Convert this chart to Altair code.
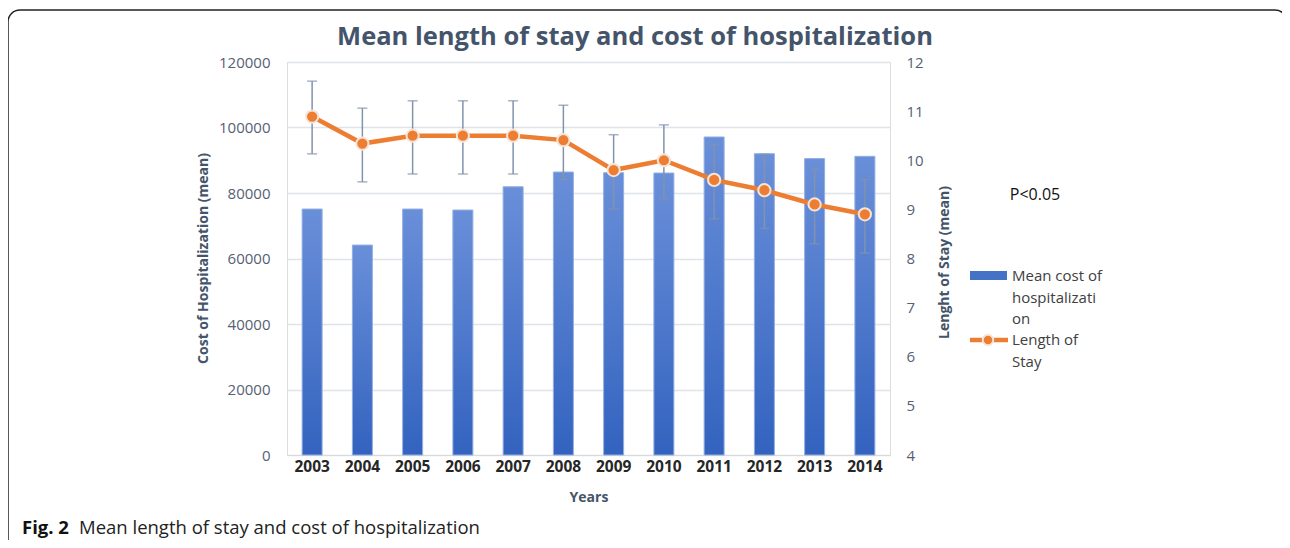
import altair as alt
import pandas as pd

years = ["2003", "2004", "2005", "2006", "2007", "2008", "2009", "2010", "2011", "2012", "2013", "2014"]
cost = [75100, 64100, 75100, 74800, 81900, 86400, 86200, 86100, 97100, 92000, 90500, 91200]
los = [10.89, 10.34, 10.50, 10.50, 10.50, 10.41, 9.80, 10.00, 9.60, 9.39, 9.10, 8.90]
los_low = [10.13, 9.56, 9.72, 9.72, 9.72, 9.61, 9.01, 9.22, 8.81, 8.61, 8.30, 8.11]
los_high = [11.61, 11.06, 11.21, 11.21, 11.21, 11.12, 10.52, 10.72, 10.32, 10.12, 9.82, 9.61]
cost_ticks = [0, 20000, 40000, 60000, 80000, 100000, 120000]
los_ticks = [4, 5, 6, 7, 8, 9, 10, 11, 12]

df = pd.DataFrame({"year": years, "cost": cost, "los": los, "low": los_low, "high": los_high})

FONT = "Open Sans"
SLATE = "#44546a"
LABEL = "#566074"
W, H = 603, 393

x_enc = alt.X(
    "year:O", sort=years,
    scale=alt.Scale(paddingInner=0.6, paddingOuter=0.3),
    axis=alt.Axis(title="Years", labelAngle=0, labelFont=FONT, labelFontSize=15.5,
                  labelFontWeight="bold", labelColor="#262626", labelPadding=4,
                  ticks=False, domain=True, domainColor="#d9d9d9", grid=False,
                  titleFont=FONT, titleFontSize=14, titleFontWeight="bold",
                  titleColor=SLATE, titleBaseline="middle", titleY=42),
)

base = alt.Chart(df)

bar_grad = alt.Gradient(
    gradient="linear",
    stops=[alt.GradientStop(color="#6a8fd9", offset=0),
           alt.GradientStop(color="#3363bf", offset=1)],
    x1=0, x2=0, y1=0, y2=1,
)

bars = base.mark_bar(size=20, color=bar_grad, stroke="#93aee3", strokeWidth=1).encode(
    x=x_enc,
    y=alt.Y("cost:Q", scale=alt.Scale(domain=[0, 120000], nice=False),
            axis=alt.Axis(values=cost_ticks, format="d", title="Cost of Hospitalization (mean)",
                          labelFont=FONT, labelFontSize=15, labelColor=LABEL, labelPadding=17,
                          ticks=False, domain=False, grid=True, gridColor="#dfe3ea", gridWidth=1.5,
                          titleFont=FONT, titleFontSize=14, titleFontWeight="bold", titleColor=SLATE,
                          titleAngle=270, titleBaseline="middle", titleX=-84, titleY=196)),
)

r_scale = alt.Scale(domain=[4, 12], nice=False)
r_axis = alt.Axis(orient="right", values=los_ticks, format="d", title="Lenght of Stay (mean)",
                  labelFont=FONT, labelFontSize=15, labelColor=LABEL, labelPadding=16,
                  ticks=False, domain=False, grid=False,
                  titleFont=FONT, titleFontSize=14, titleFontWeight="bold", titleColor=SLATE,
                  titleAngle=270, titleBaseline="middle", titleX=54, titleY=200)

ERR = "#8193ad"
rules = base.mark_rule(color=ERR, strokeWidth=1.5).encode(
    x=x_enc, y=alt.Y("low:Q", scale=r_scale, axis=r_axis), y2="high:Q")
tick_lo = base.mark_tick(color=ERR, thickness=1.5, size=10).encode(
    x=x_enc, y=alt.Y("low:Q", scale=r_scale, axis=r_axis))
tick_hi = base.mark_tick(color=ERR, thickness=1.5, size=10).encode(
    x=x_enc, y=alt.Y("high:Q", scale=r_scale, axis=r_axis))
line = base.mark_line(color="#ed7d31", strokeWidth=4.5).encode(
    x=x_enc, y=alt.Y("los:Q", scale=r_scale, axis=r_axis))
pts = base.mark_point(filled=True, fill="#ed7d31", stroke="#f5e4d8", strokeWidth=2,
                      size=150, opacity=1).encode(
    x=x_enc, y=alt.Y("los:Q", scale=r_scale, axis=r_axis))

right = alt.layer(rules, tick_lo, tick_hi, line, pts)

main = alt.layer(bars, right).resolve_scale(y="independent")

# annotations (page -> plot coords: subtract (287, 62))
ann = alt.Chart(pd.DataFrame({"a": [0]}))

frame = ann.mark_rect(fill=None, stroke="#222222", strokeWidth=1.5, cornerRadius=12).encode(
    x=alt.value(-279), x2=alt.value(1000), y=alt.value(-52), y2=alt.value(490))

title = ann.mark_text(font=FONT, fontSize=25.5, fontWeight="bold", color=SLATE,
                      align="center", baseline="middle").encode(
    x=alt.value(348), y=alt.value(-25), text=alt.value("Mean length of stay and cost of hospitalization"))

pval = ann.mark_text(font=FONT, fontSize=16, color="#111111", align="center", baseline="middle").encode(
    x=alt.value(748), y=alt.value(133), text=alt.value("P<0.05"))

leg_rect = ann.mark_rect(color="#4472c4").encode(
    x=alt.value(683), x2=alt.value(720), y=alt.value(209), y2=alt.value(218))
leg_line = ann.mark_rule(color="#ed7d31", strokeWidth=4.5).encode(
    x=alt.value(683), x2=alt.value(721), y=alt.value(278))
leg_pt = ann.mark_point(filled=True, fill="#ed7d31", stroke="#f5e4d8", strokeWidth=2,
                        size=110, opacity=1).encode(x=alt.value(701), y=alt.value(278))

leg_lines = [("Mean cost of", 214), ("hospitalizati", 236), ("on", 257), ("Length of", 278), ("Stay", 300)]
leg_texts = [
    ann.mark_text(font=FONT, fontSize=15, color="#404040", align="left", baseline="middle").encode(
        x=alt.value(725), y=alt.value(yy), text=alt.value(t))
    for t, yy in leg_lines
]

cap1 = ann.mark_text(font=FONT, fontSize=18.5, fontWeight="bold", color="#111111",
                     align="left", baseline="middle").encode(
    x=alt.value(-265), y=alt.value(466), text=alt.value("Fig. 2"))
cap2 = ann.mark_text(font=FONT, fontSize=18.5, color="#222222", align="left", baseline="middle").encode(
    x=alt.value(-208), y=alt.value(466), text=alt.value("Mean length of stay and cost of hospitalization"))

chart = alt.layer(main, frame, title, pval, leg_rect, leg_line, leg_pt, *leg_texts, cap1, cap2).properties(
    width=W, height=H,
    autosize=alt.AutoSizeParams(type="none"),
    padding={"left": 279, "top": 54, "right": 392, "bottom": 85},
).configure_view(stroke=None).configure(background="white")

chart.save("out.html", embed_options={"renderer": "svg", "actions": False})
